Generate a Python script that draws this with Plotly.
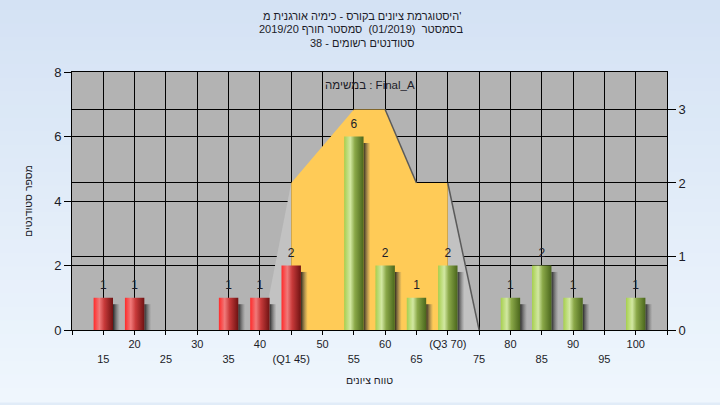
import plotly.graph_objects as go

# ---- data ----
title_lines = ["היסטוגרמת ציונים בקורס - כימיה אורגנית מ'",
               "בסמסטר  (01/2019)  סמסטר חורף 2019/20",
               "סטודנטים רשומים - 38"]
task_label = "במשימה : Final_A"
x_title = "טווח ציונים"
y_title = "מספר סטודנטים"

tick_vals = [10, 15, 20, 25, 30, 35, 40, 45, 50, 55, 60, 65, 70, 75, 80, 85, 90, 95, 100, 105]
tick_labels = ["", "15", "20", "25", "30", "35", "40", "(Q1 45)", "50", "55", "60", "65",
               "(Q3 70)", "75", "80", "85", "90", "95", "100", ""]

low_x = [15, 20, 35, 40, 45]
low_y = [1, 1, 1, 1, 2]
high_x = [55, 60, 65, 70, 80, 85, 90, 100]
high_y = [6, 2, 1, 2, 1, 2, 1, 1]

area_x = [45, 45, 55, 60, 65, 70, 70]
area_y = [0, 2, 3, 3, 2, 2, 0]
left_face_x = [40.4, 45, 45]
left_face_y = [0, 2, 0]
right_face_x = [70, 75, 70]
right_face_y = [2, 0, 0]
edge1_x = [60, 65]
edge1_y = [3, 2]
edge2_x = [70, 75]
edge2_y = [2, 0]

# ---- style ----
BAR_W = 3.1
SH_W = 1.1
TXT = "#1c1c28"
FONT = "Liberation Sans, DejaVu Sans, Arial, sans-serif"
red_scale = [[0, "#ff2a2a"], [0.3, "#f07a7a"], [0.55, "#c83a3a"], [1, "#6e1212"]]
green_scale = [[0, "#a6cf4e"], [0.32, "#d2e8a2"], [0.55, "#8aa848"], [1, "#4a661c"]]

fig = go.Figure()

# area (right axis, main y)
fig.add_trace(go.Scatter(x=left_face_x, y=left_face_y, fill="toself", mode="lines",
                         line=dict(width=0), fillcolor="#c2c2c2", yaxis="y",
                         hoverinfo="skip", showlegend=False))
fig.add_trace(go.Scatter(x=right_face_x, y=right_face_y, fill="toself", mode="lines",
                         line=dict(width=0), fillcolor="#c2c2c2", yaxis="y",
                         hoverinfo="skip", showlegend=False))
fig.add_trace(go.Scatter(x=area_x, y=area_y, fill="toself", mode="lines",
                         line=dict(width=0), fillcolor="#ffcb57", yaxis="y",
                         hoverinfo="skip", showlegend=False))
for ex, ey in ((edge1_x, edge1_y), (edge2_x, edge2_y)):
    fig.add_trace(go.Scatter(x=ex, y=ey, mode="lines", line=dict(color="#5a5a5a", width=1.5),
                             yaxis="y", hoverinfo="skip", showlegend=False))

# bars (left axis, y2)
def add_bars(xs, ys, scale):
    for cx, v in zip(xs, ys):
        x0 = cx + BAR_W / 2
        fig.add_trace(go.Scatter(
            x=[x0, x0 + SH_W, x0 + SH_W, x0, x0], y=[0, 0, v - 0.2, v - 0.2, 0],
            fill="toself", mode="lines", line=dict(width=0), yaxis="y2",
            fillgradient=dict(type="horizontal",
                              colorscale=[[0, "rgba(25,25,25,0.9)"], [1, "rgba(90,90,90,0)"]]),
            hoverinfo="skip", showlegend=False))
    for cx, v in zip(xs, ys):
        xl, xr = cx - BAR_W / 2, cx + BAR_W / 2
        fig.add_trace(go.Scatter(
            x=[xl, xr, xr, xl, xl], y=[0, 0, v, v, 0],
            fill="toself", mode="lines", line=dict(width=0), yaxis="y2",
            fillgradient=dict(type="horizontal", colorscale=scale),
            hoverinfo="skip", showlegend=False))
    fig.add_trace(go.Scatter(x=xs, y=ys, mode="markers+text", text=[str(v) for v in ys],
                             textposition="top center", yaxis="y2",
                             marker=dict(size=7, color="rgba(0,0,0,0)"),
                             textfont=dict(size=12, color=TXT, family=FONT),
                             hoverinfo="skip", showlegend=False))

add_bars(low_x, low_y, red_scale)
add_bars(high_x, high_y, green_scale)

# background gradient bands (paper) + plot area
L, R, T, B = 72, 53, 72, 75
W, H = 720, 405
pw, ph = W - L - R, H - T - B
shapes = []
n = 30
top_c = (212, 226, 244)
bot_c = (239, 246, 253)
for i in range(n):
    f = i / (n - 1)
    c = tuple(round(top_c[k] + (bot_c[k] - top_c[k]) * f) for k in range(3))
    y_hi = (H - T - i * H / n) / ph
    y_lo = (H - T - (i + 1) * H / n) / ph
    shapes.append(dict(type="rect", xref="paper", yref="paper", layer="below",
                       x0=-L / pw - 0.01, x1=1 + R / pw + 0.01, y0=y_lo - 0.002, y1=y_hi + 0.002,
                       line=dict(width=0), fillcolor="rgb(%d,%d,%d)" % c))
shapes.append(dict(type="rect", xref="paper", yref="paper", layer="below",
                   x0=0, x1=1, y0=0, y1=1, line=dict(width=0), fillcolor="#b3b3b3"))

ticktext = []
for v, t in zip(tick_vals, tick_labels):
    ticktext.append("<br>" + t if (v // 5) % 2 == 1 else t)


def py(p):
    """pixel row -> paper y"""
    return (H - B - p) / ph


annotations = [dict(text=task_label, x=0.5, y=py(85), xref="paper", yref="paper",
                    yanchor="middle", showarrow=False, font=dict(size=11.5, color=TXT))]
for line, p in zip(title_lines, (16, 29.5, 42.5)):
    annotations.append(dict(text=line, x=0.487, y=py(p), xref="paper", yref="paper",
                            xanchor="center", yanchor="middle", showarrow=False,
                            font=dict(size=11, color=TXT, family=FONT)))

fig.update_layout(
    width=W, height=H,
    margin=dict(l=L, r=R, t=T, b=B, autoexpand=False),
    paper_bgcolor="rgb(225,236,248)",
    plot_bgcolor="rgba(0,0,0,0)",
    shapes=shapes,
    font=dict(family=FONT, color=TXT, size=12),
    xaxis=dict(range=[10, 105], tickvals=tick_vals, ticktext=ticktext,
               showgrid=True, gridcolor="black", gridwidth=1,
               showline=True, linecolor="black", linewidth=1, mirror=True,
               ticks="outside", ticklen=4, tickcolor="black",
               tickfont=dict(size=11, color=TXT), zeroline=False,
               title=dict(text=x_title, standoff=13, font=dict(size=10.5, color=TXT))),
    yaxis=dict(range=[0, 3.51], side="right", tickvals=[0, 1, 2, 3],
               showgrid=True, gridcolor="black", gridwidth=1,
               showline=True, linecolor="black", linewidth=1,
               ticks="outside", ticklen=8, tickcolor="black",
               tickfont=dict(size=13, color=TXT), zeroline=False),
    yaxis2=dict(range=[0, 8], side="left", overlaying="y", tickvals=[0, 2, 4, 6, 8],
                showgrid=True, gridcolor="black", gridwidth=1,
                showline=True, linecolor="black", linewidth=1,
                ticks="outside", ticklen=7, tickcolor="black",
                tickfont=dict(size=13, color=TXT), zeroline=False,
                title=dict(text=y_title, standoff=19, font=dict(size=10.5, color=TXT))),
    annotations=annotations,
)

fig.write_html("out.html", config={"displayModeBar": False},
               post_script="document.body.style.margin='0';")
